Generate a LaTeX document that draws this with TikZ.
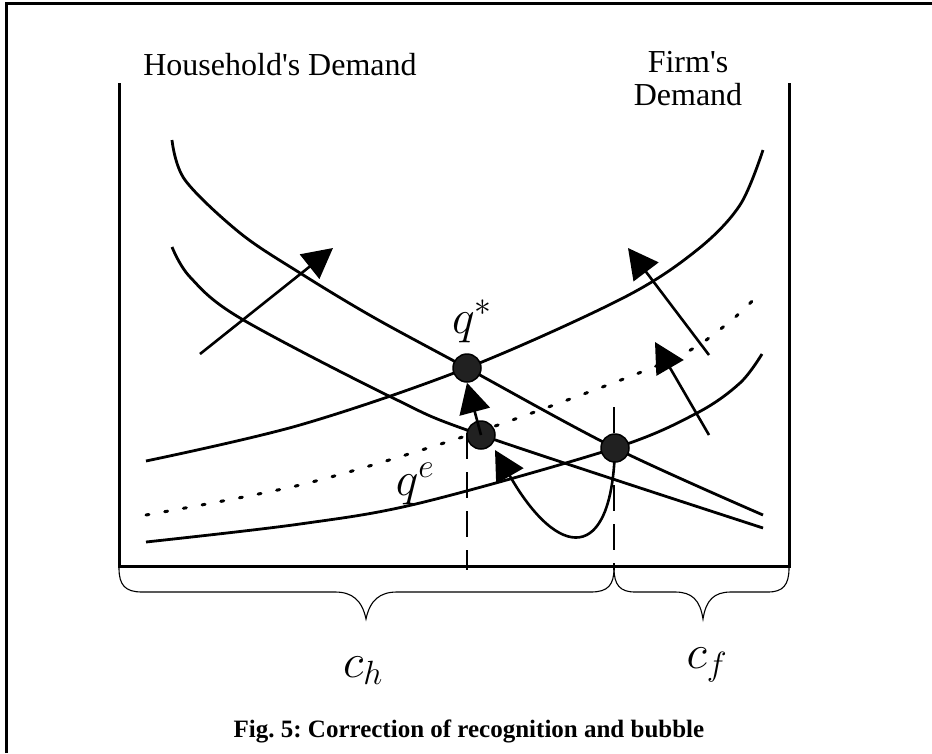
\RequirePackage{fix-cm}
\documentclass[tikz,border=0pt]{standalone}
\usepackage{fontspec}
\setmainfont{Liberation Serif}
\usepackage{tikz}
\usetikzlibrary{arrows.meta}
\tikzset{
  crv/.style={line width=2.8pt},
  expcrv/.style={line width=3pt, line cap=round, dash pattern=on 3pt off 16pt},
  guide/.style={line width=2.6pt, dash pattern=on 26pt off 13pt},
  shifter/.style={line width=2.6pt, -{Triangle[length=30pt,width=31pt]}},
  eq/.style={circle, draw=black, line width=1.5pt, fill=black!87, minimum size=28pt, inner sep=0pt},
  hdr/.style={font=\fontsize{32}{33}\selectfont, inner sep=0pt},
  sym/.style={font=\fontsize{48}{54}\selectfont, inner sep=0pt},
  figcap/.style={font=\bfseries\fontsize{25}{30}\selectfont, inner sep=0pt},
  brc/.style={line width=1.1pt}
}
\frenchspacing
\begin{document}
\begin{tikzpicture}[x=1pt, y=-1pt]
\useasboundingbox (0,0) rectangle (932,753);
\draw[line width=3pt] (6,753) -- (6,3) -- (932,3);
\node[hdr, anchor=base] (hh) at (280,75) {Household\textquotesingle s Demand};
\node[hdr, anchor=base] (ff) at (688,72) {Firm\textquotesingle s};
\node[hdr, anchor=base] (fd) at (688,105) {Demand};
\draw[line width=3pt] (119,83) -- (119,566) -- (789,566) -- (789,83);
\coordinate (pstar) at (467,368);
\coordinate (pe) at (481,435);
\coordinate (pf) at (615,448);
\draw[crv] plot[smooth, tension=0.55] coordinates {(172,140) (185,180) (240,233) (300,273) (373,317) (pstar) (pf) (763,515)};
\draw[crv] plot[smooth, tension=0.55] coordinates {(172,247) (190,277) (240,318) (393,398) (pe) (763,528)};
\draw[crv] plot[smooth, tension=0.55] coordinates {(146,461) (300,425) (pstar) (623,298) (697,250) (740,205) (763,150)};
\draw[crv] plot[smooth, tension=0.55] coordinates {(146,542) (300,524) (420,503) (pf) (697,413) (740,383) (762,354)};
\draw[expcrv] plot[smooth, tension=0.55] coordinates {(146,515) (300,485) (447,442) (562,402) (677,357) (727,324) (758,295)};
\coordinate (g1) at (467,433);
\coordinate (g1b) at (467,570);
\coordinate (g2) at (614,407);
\coordinate (g2b) at (614,570);
\draw[guide] (g1) -- (g1b);
\draw[guide] (g2) -- (g2b);
\draw[brc] (119,568) .. controls (119,585) and (125,592) .. (142,592) -- (335,592)
  .. controls (352,592) and (362,600) .. (366,619) .. controls (370,600) and (380,592) .. (397,592)
  -- (591,592) .. controls (608,592) and (614,585) .. (614,568);
\draw[brc] (614,568) .. controls (614,585) and (620,592) .. (635,592) -- (675,592)
  .. controls (692,592) and (700,600) .. (703,619) .. controls (706,600) and (714,592) .. (731,592)
  -- (768,592) .. controls (783,592) and (789,585) .. (789,568);
\coordinate (s1) at (200,354);
\coordinate (t1) at (333,248);
\coordinate (s2) at (709,355);
\coordinate (t2) at (628,248);
\coordinate (s3) at (709,435);
\coordinate (t3) at (655,342);
\coordinate (bub) at (495,450);
\draw[shifter] (s1) -- (t1);
\draw[shifter] (s2) -- (t2);
\draw[shifter] (s3) -- (t3);
\draw[shifter] (pf) .. controls (612,565) and (558,560) .. (bub);
\node[eq] (qstar) at (pstar) {};
\node[eq] (qe) at (pe) {};
\node[eq] (qf) at (pf) {};
\draw[shifter] (qe.center) -- (qstar.south);
\node[sym, anchor=base] (lstar) at (472,333) {$q^*$};
\node[sym, anchor=base] (le) at (415,495) {$q^e$};
\node[sym, anchor=base] (lh) at (363,677) {$c_h$};
\node[sym, anchor=base] (lf) at (707,668) {$c_f$};
\node[figcap, anchor=base] (fig) at (469,737) {Fig. 5: Correction of recognition and bubble};
\end{tikzpicture}
\end{document}
